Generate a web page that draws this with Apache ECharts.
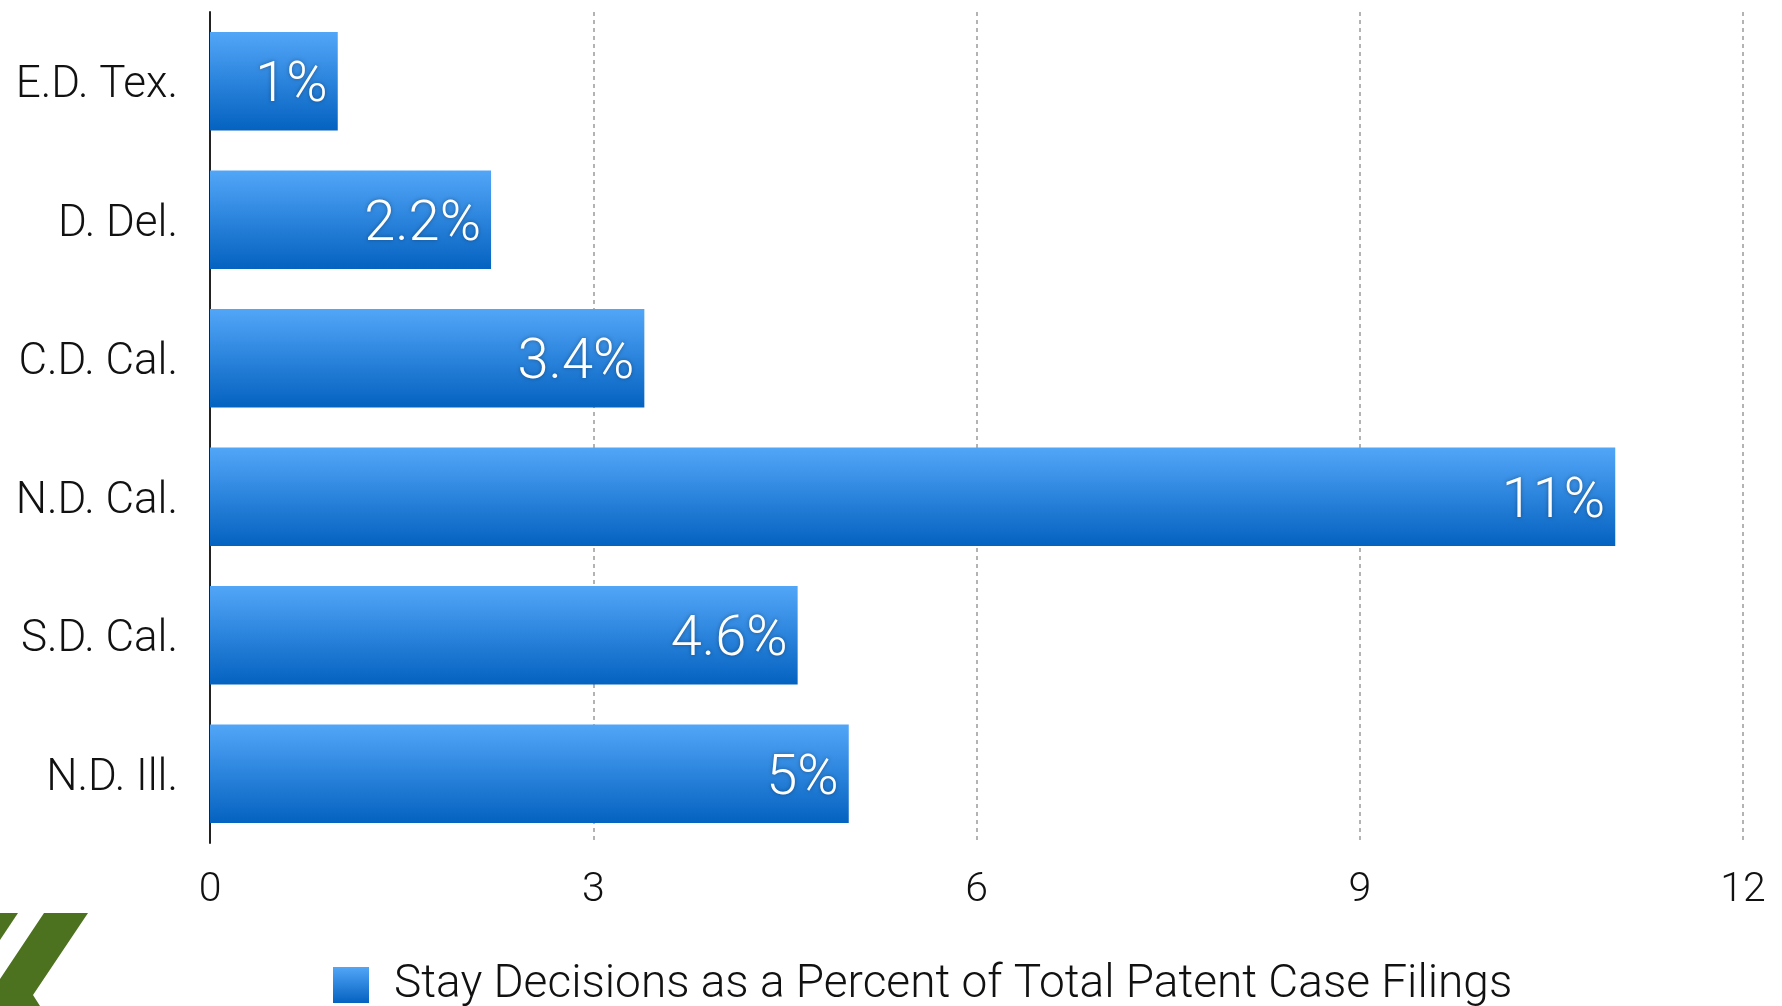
<!DOCTYPE html>
<html>
<head>
<meta charset="utf-8">
<script src="https://cdn.jsdelivr.net/npm/echarts@6/dist/echarts.min.js"></script>
<style>
html,body{margin:0;padding:0;background:#fff;}
#chart{width:1782px;height:1006px;}
</style>
</head>
<body>
<div id="chart"></div>
<script>
var categories = ['E.D. Tex.', 'D. Del.', 'C.D. Cal.', 'N.D. Cal.', 'S.D. Cal.', 'N.D. Ill.'];
var values = [1, 2.2, 3.4, 11, 4.6, 5];
var seriesName = 'Stay Decisions as a Percent of Total Patent Case Filings';
var xTicks = [0, 3, 6, 9, 12];

var FONT = 'Roboto, "Liberation Sans", sans-serif';
var grad = new echarts.graphic.LinearGradient(0, 0, 0, 1, [
  {offset: 0, color: '#52a6f8'},
  {offset: 1, color: '#0462c0'}
]);

var chart = echarts.init(document.getElementById('chart'), null, {renderer: 'canvas'});
chart.setOption({
  animation: false,
  backgroundColor: '#fff',
  grid: {left: 210, right: 39, top: 12, bottom: 163, containLabel: false},
  xAxis: {
    type: 'value', min: xTicks[0], max: xTicks[xTicks.length - 1], interval: 3,
    axisLine: {show: false}, axisTick: {show: false},
    axisLabel: {fontFamily: FONT, fontWeight: 300, fontSize: 41, color: '#111', margin: 27},
    splitLine: {show: true, lineStyle: {color: '#9a9a9a', width: 1.5, type: [4, 4]}}
  },
  yAxis: {
    type: 'category', data: categories, inverse: true,
    axisLine: {show: true, lineStyle: {color: '#222', width: 2}},
    axisTick: {show: false},
    axisLabel: {
      margin: 32,
      formatter: function (v) { return '{a|' + v + '}'; },
      rich: {a: {fontFamily: FONT, fontWeight: 300, fontSize: 44, color: '#111', padding: [10, 0, 0, 0]}}
    }
  },
  legend: {
    show: true, left: 333, top: 962, padding: 0, icon: 'rect', itemWidth: 36, itemHeight: 36,
    textStyle: {fontFamily: FONT, fontWeight: 300, fontSize: 46, color: '#111', padding: [0, 0, 0, 20]},
    data: [{name: seriesName, itemStyle: {color: grad}}]
  },
  series: [{
    name: seriesName, type: 'bar', data: values, barCategoryGap: '29%',
    itemStyle: {color: grad},
    label: {
      show: true, position: 'insideRight', distance: 10, offset: [0, 6],
      formatter: function (p) { return p.value + '%'; },
      fontFamily: FONT, fontWeight: 300, fontSize: 56, color: '#fff',
      textShadowColor: 'rgba(0,0,0,0.35)', textShadowBlur: 4
    }
  }],
  graphic: [
    {type: 'polygon', shape: {points: [[0, 913], [18, 913], [0, 940]]}, style: {fill: '#4d721f'}},
    {type: 'polygon', shape: {points: [[44, 913], [88, 913], [33, 995], [40, 1006], [0, 1006], [0, 979]]}, style: {fill: '#4d721f'}}
  ]
});
</script>
</body>
</html>
